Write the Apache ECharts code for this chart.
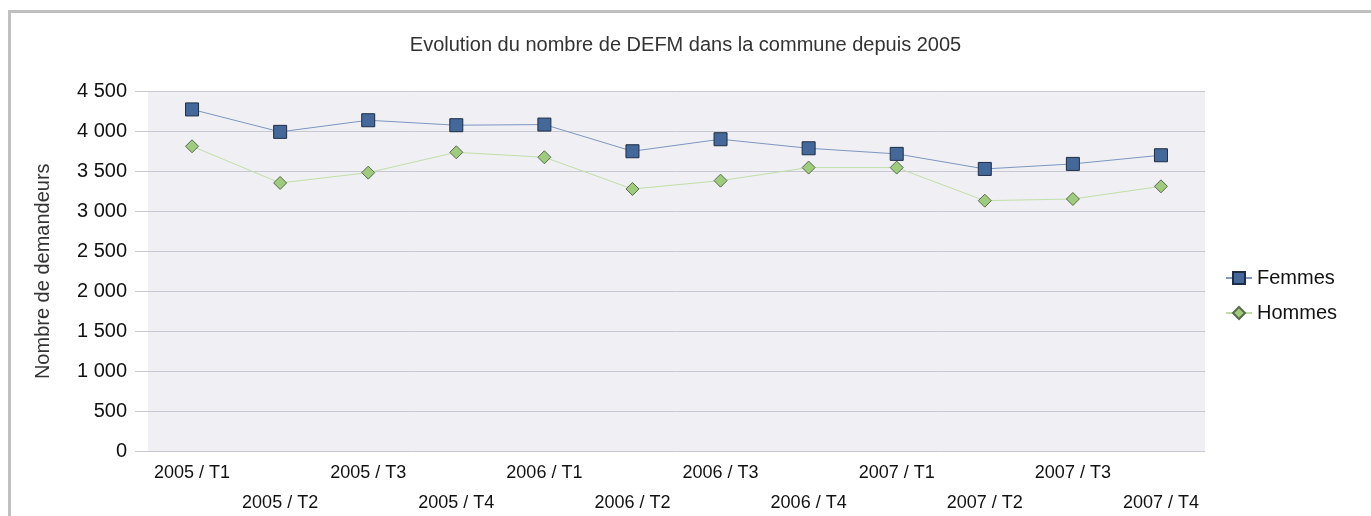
<!DOCTYPE html>
<html>
<head>
<meta charset="utf-8">
<script src="https://cdn.jsdelivr.net/npm/echarts@6/dist/echarts.min.js"></script>
<style>
html,body{margin:0;padding:0;background:#fff;}
#c{width:1371px;height:516px;}
</style>
</head>
<body>
<div id="c"></div>
<script>
var categories = ['2005 / T1','2005 / T2','2005 / T3','2005 / T4','2006 / T1','2006 / T2','2006 / T3','2006 / T4','2007 / T1','2007 / T2','2007 / T3','2007 / T4'];
var femmes = [4270, 3990, 4135, 4073, 4081, 3748, 3898, 3785, 3715, 3527, 3590, 3698];
var hommes = [3810, 3352, 3481, 3735, 3673, 3277, 3381, 3544, 3544, 3131, 3152, 3310];
var yTicks = [0, 500, 1000, 1500, 2000, 2500, 3000, 3500, 4000, 4500];

var font = 'Liberation Sans, Arial, sans-serif';
var chart = echarts.init(document.getElementById('c'), null, {renderer:'canvas'});
chart.setOption({
  animation: false,
  backgroundColor: '#fff',
  graphic: [{
    type: 'polyline',
    shape: {points: [[9.5, 520], [9.5, 11.5], [1371, 11.5]]},
    style: {stroke: '#c0c0c0', lineWidth: 3, fill: null},
    silent: true
  }],
  title: {
    text: 'Evolution du nombre de DEFM dans la commune depuis 2005',
    left: 'center', top: 30,
    textStyle: {fontFamily: font, fontSize: 20, fontWeight: 'normal', color: '#333'}
  },
  legend: {
    orient: 'vertical',
    left: 1220, top: 263,
    itemGap: 15,
    itemWidth: 26, itemHeight: 15,
    textStyle: {fontFamily: font, fontSize: 20, color: '#111'},
    data: ['Femmes', 'Hommes']
  },
  grid: {
    left: 148, right: 166, top: 91, bottom: 64.5,
    outerBoundsMode: 'none',
    show: true, backgroundColor: '#efeff4', borderWidth: 0
  },
  xAxis: {
    type: 'category',
    data: categories,
    boundaryGap: true,
    axisLine: {show: false},
    axisTick: {show: false},
    axisLabel: {
      interval: 0,
      fontFamily: font, fontSize: 18, color: '#111',
      margin: 7,
      lineHeight: 30,
      formatter: function (v, i) { return i % 2 ? '\n' + v : v; }
    }
  },
  yAxis: {
    type: 'value',
    min: yTicks[0], max: yTicks[yTicks.length - 1], interval: 500,
    name: 'Nombre de demandeurs',
    nameLocation: 'middle',
    nameGap: 95,
    nameTextStyle: {fontFamily: font, fontSize: 20, color: '#333'},
    axisLine: {show: false},
    axisTick: {show: true, length: 13, lineStyle: {color: '#c8c8d2'}},
    splitLine: {show: true, lineStyle: {color: '#c8c8d2', width: 1}},
    axisLabel: {
      fontFamily: font, fontSize: 20, color: '#111', margin: 21,
      formatter: function (v) { return String(v).replace(/\B(?=(\d{3})+(?!\d))/g, ' '); }
    }
  },
  series: [{
    name: 'Femmes',
    type: 'line',
    data: femmes,
    symbol: 'rect',
    symbolSize: 13,
    lineStyle: {color: '#7d97c0', width: 1},
    itemStyle: {color: '#44689a', borderColor: '#1e2d45', borderWidth: 1},
    z: 3
  }, {
    name: 'Hommes',
    type: 'line',
    data: hommes,
    symbol: 'diamond',
    symbolSize: 13,
    lineStyle: {color: '#c2dea8', width: 1},
    itemStyle: {color: '#9fcb7e', borderColor: '#5a6a50', borderWidth: 1},
    z: 2
  }]
});
</script>
</body>
</html>
